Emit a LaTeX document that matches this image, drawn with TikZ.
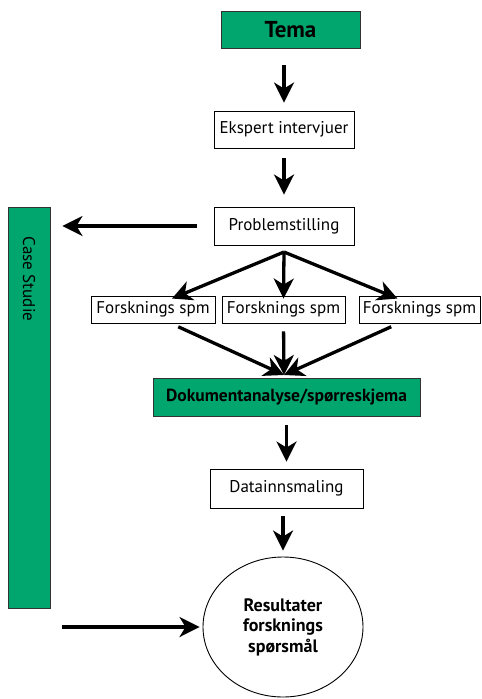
\documentclass[tikz,border=0pt]{standalone}
\usepackage{fontspec}
\setmainfont{PT Sans}
\usetikzlibrary{arrows.meta,shapes.geometric}
\definecolor{boxgreen}{RGB}{0,166,110}
\tikzset{
  plainbox/.style={draw=black, line width=0.9pt, fill=white, inner sep=0pt, align=center, font=\fontsize{17}{19}\selectfont},
  greenbox/.style={draw=black!80, line width=0.9pt, fill=boxgreen, inner sep=0pt, align=center},
  arr/.style={line width=3.3pt, -{Stealth[length=20pt, width=20pt, inset=6pt]}},
}
\begin{document}
\begin{tikzpicture}[x=1pt, y=-1pt]
\useasboundingbox (0,0) rectangle (482,699);

% boxes of the flow
\node[greenbox, minimum width=139pt, minimum height=37pt, font=\bfseries\fontsize{23}{25}\selectfont] (tema) at (290.5,29.5) {Tema};
\node[plainbox, minimum width=140pt, minimum height=37pt] (eksp) at (284,129.5) {Ekspert intervjuer};
\node[plainbox, minimum width=140pt, minimum height=38pt] (prob) at (284,226) {Problemstilling};
\node[plainbox, minimum width=124pt, minimum height=27pt] (fs1) at (153,309.5) {Forsknings spm};
\node[plainbox, minimum width=123pt, minimum height=27pt] (fs2) at (283.5,309.5) {Forsknings spm};
\node[plainbox, minimum width=121pt, minimum height=27pt] (fs3) at (419.5,309.5) {Forsknings spm};
\node[greenbox, minimum width=267pt, minimum height=38pt, font=\bfseries\fontsize{17.5}{19}\selectfont] (doku) at (286.5,397) {Dokumentanalyse/spørreskjema};
\node[plainbox, minimum width=153pt, minimum height=39pt] (data) at (286.5,488.5) {Datainnsmaling};
\node[ellipse, draw=black, line width=0.9pt, fill=white, minimum width=160pt, minimum height=140pt, inner sep=0pt, align=center, font=\bfseries\fontsize{18}{20.5}\selectfont] (res) at (283,627) {Resultater\\forsknings\\spørsmål};

% side bar
\node[greenbox, minimum width=42pt, minimum height=401pt] (case) at (29,407.5) {};
\node[rotate=-90, anchor=west, inner sep=0pt, font=\fontsize{17}{19}\selectfont] (casetxt) at ([yshift=-30pt]case.north) {Case Studie};

% split and merge points
\coordinate (split) at (284,252);
\coordinate (merge) at (284,375);

% connectors
\draw[arr, shorten <=17pt, shorten >=8pt] (tema.south -| eksp.north) -- (eksp.north);
\draw[arr, shorten <=10pt, shorten >=12pt] (eksp.south) -- (prob.north);
\draw[arr, shorten <=17pt, shorten >=12pt] (prob.west) -- (prob.west -| case.east);
\draw[arr] (split) -- ([xshift=19pt,yshift=-3pt]fs1.north);
\draw[arr] (split) -- ([yshift=-3pt]fs2.north);
\draw[arr] (split) -- ([xshift=-22pt,yshift=-3pt]fs3.north);
\draw[arr, shorten <=8pt] ([xshift=18pt]fs1.south) -- (merge);
\draw[arr, shorten <=8pt] (fs2.south) -- (merge);
\draw[arr, shorten <=8pt] ([xshift=-21pt]fs3.south) -- (merge);
\draw[arr, shorten <=9pt, shorten >=7pt] (doku.south -| data.north) -- (data.north);
\draw[arr, shorten <=8pt, shorten >=6pt] (data.south -| res.north) -- (res.north);
\draw[arr, shorten <=12pt, shorten >=3pt] (res.west -| case.east) -- (res.west);
\end{tikzpicture}
\end{document}
